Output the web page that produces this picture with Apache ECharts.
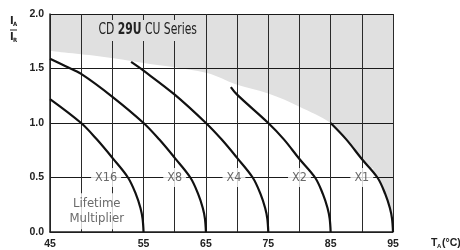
<!DOCTYPE html>
<html>
<head>
<meta charset="utf-8">
<script src="https://cdn.jsdelivr.net/npm/echarts@6/dist/echarts.min.js"></script>
<style>
  html, body { margin: 0; padding: 0; background: #fff; }
  #chart { width: 460px; height: 250px; }
</style>
</head>
<body>
<div id="chart"></div>
<script>
  // x axis: temperature ticks and the grid cell each one sits on (first decade is 3 cells wide)
  const xTickTemps = [45, 55, 65, 75, 85, 95];
  const xTickCells = [0, 3, 5, 7, 9, 11];
  const yTickLabels = ['0.0', '0.5', '1.0', '1.5', '2.0'];

  // derating curves, [T_A in °C, I_A / I_R]
  const curveX16 = [[45, 1.22], [48.33, 1.0], [50, 0.85], [51.67, 0.68], [53.33, 0.5], [54.17, 0.35], [54.67, 0.22], [54.9, 0.12], [55, 0]];
  const curveX8 = [[45, 1.59], [46.67, 1.52], [48.33, 1.45], [51.67, 1.24], [55, 1.0], [57.5, 0.85], [60, 0.68], [62.5, 0.5], [63.75, 0.35], [64.5, 0.22], [64.85, 0.12], [65, 0]];
  const curveX4 = [[53.67, 1.56], [55, 1.48], [60, 1.26], [65, 1.0], [67.5, 0.85], [70, 0.68], [72.5, 0.5], [73.75, 0.35], [74.5, 0.22], [74.85, 0.12], [75, 0]];
  const curveX2 = [[69, 1.33], [70, 1.26], [75, 1.0], [77.5, 0.85], [80, 0.67], [82.5, 0.5], [83.75, 0.35], [84.5, 0.22], [84.85, 0.12], [85, 0]];
  const curveX1 = [[85, 1.0], [87.5, 0.85], [90, 0.67], [92.5, 0.5], [93.75, 0.35], [94.5, 0.22], [94.85, 0.12], [95, 0]];

  // edge of the grey (not allowed) region, then down along the X1 curve
  const shadeEdge = [[45, 1.66], [50.4, 1.61], [55, 1.55], [65, 1.46], [70, 1.35], [75, 1.27], [80, 1.15], [85, 1.0],
    [87.5, 0.85], [90, 0.67], [92.5, 0.5], [93.75, 0.35], [94.5, 0.22], [94.85, 0.12], [95, 0]];

  const multNames = ['X16', 'X8', 'X4', 'X2', 'X1'];
  const multTemps = [51, 60, 69.5, 80, 90];
  const multY = 0.5;

  const narrow = "'DejaVu Sans Condensed', sans-serif";
  const boldFont = "'Liberation Sans', Roboto, sans-serif";

  // temperature -> grid cell, piecewise along the tick table
  function cell(t) {
    for (let i = 1; i < xTickTemps.length; i++) {
      if (t <= xTickTemps[i]) {
        const f = (t - xTickTemps[i - 1]) / (xTickTemps[i] - xTickTemps[i - 1]);
        return xTickCells[i - 1] + f * (xTickCells[i] - xTickCells[i - 1]);
      }
    }
    return xTickCells[xTickCells.length - 1];
  }
  const toCells = arr => arr.map(p => [cell(p[0]), p[1]]);

  function curve(data) {
    return {
      type: 'line', data: toCells(data), symbol: 'none', smooth: 0.35, z: 5,
      lineStyle: {color: '#111', width: 2.2}
    };
  }

  const option = {
    animation: false,
    grid: {left: 50, right: 67, top: 14, bottom: 18},
    xAxis: {
      type: 'value', min: 0, max: 11, interval: 1, z: 3,
      axisLine: {show: true, lineStyle: {color: '#222', width: 1.5}},
      axisTick: {show: false},
      splitLine: {show: true, lineStyle: {color: '#2a2a2a', width: 1}},
      axisLabel: {
        margin: 7, color: '#222', fontSize: 10.5, fontWeight: 'bold', fontFamily: boldFont,
        showMinLabel: true, showMaxLabel: true,
        formatter: v => {
          const i = xTickCells.indexOf(Math.round(v));
          return i >= 0 ? String(xTickTemps[i]) : '';
        }
      }
    },
    yAxis: {
      type: 'value', min: 0, max: 2, interval: 0.5, z: 3,
      axisLine: {show: true, lineStyle: {color: '#222', width: 1.5}},
      axisTick: {show: false},
      splitLine: {show: true, lineStyle: {color: '#1a1a1a', width: 1}},
      axisLabel: {
        margin: 6, color: '#222', fontSize: 10.5, fontWeight: 'bold', fontFamily: boldFont,
        formatter: v => yTickLabels[Math.round(v / 0.5)]
      }
    },
    series: [
      {
        type: 'line', data: toCells(shadeEdge), symbol: 'none', smooth: 0.35, z: 1,
        lineStyle: {width: 0},
        areaStyle: {color: '#e0e0e0', opacity: 1, origin: 'end'}
      },
      curve(curveX16),
      curve(curveX8),
      curve(curveX4),
      curve(curveX2),
      curve(curveX1),
      {
        type: 'scatter', z: 4, symbolSize: 1, itemStyle: {color: 'rgba(0,0,0,0)'},
        data: multNames.map((n, i) => ({name: n, value: [cell(multTemps[i]), multY]})),
        label: {
          show: true, position: 'inside', formatter: '{b}',
          color: '#444', fontSize: 12.5, fontFamily: narrow,
          backgroundColor: '#fff', padding: [3, 4]
        }
      },
      {
        type: 'scatter', z: 4, symbolSize: 1, itemStyle: {color: 'rgba(0,0,0,0)'},
        data: [{name: 'Lifetime\nMultiplier', value: [cell(50), 0.19]}],
        label: {
          show: true, position: 'inside', formatter: '{b}',
          color: '#444', fontSize: 13, lineHeight: 15, fontFamily: narrow,
          backgroundColor: '#fff', padding: [3, 1]
        }
      }
    ],
    graphic: [
      {
        type: 'text', x: 96, y: 20, z: 10, scaleX: 0.8,
        style: {
          text: 'CD {b|29U} CU Series', fill: '#222', fontSize: 15, fontFamily: narrow,
          backgroundColor: '#e0e0e0', padding: [3, 3],
          rich: {b: {fontWeight: 'bold', fontSize: 15, fontFamily: narrow, fill: '#222'}}
        }
      },
      {type: 'text', left: 10, top: 16, style: {text: 'I', fill: '#222', fontSize: 11, fontWeight: 'bold', fontFamily: narrow}},
      {type: 'text', left: 13, top: 21, style: {text: 'A', fill: '#222', fontSize: 6, fontWeight: 'bold', fontFamily: narrow}},
      {type: 'line', shape: {x1: 10, y1: 30, x2: 17, y2: 30}, style: {stroke: '#222', lineWidth: 1}},
      {type: 'text', left: 10, top: 32, style: {text: 'I', fill: '#222', fontSize: 11, fontWeight: 'bold', fontFamily: narrow}},
      {type: 'text', left: 13, top: 37, style: {text: 'R', fill: '#222', fontSize: 6, fontWeight: 'bold', fontFamily: narrow}},
      {type: 'text', left: 431, top: 238, style: {text: 'T', fill: '#222', fontSize: 10.5, fontWeight: 'bold', fontFamily: boldFont}},
      {type: 'text', left: 437, top: 243, style: {text: 'A', fill: '#222', fontSize: 6, fontWeight: 'bold', fontFamily: boldFont}},
      {type: 'text', left: 442, top: 238, style: {text: '(°C)', fill: '#222', fontSize: 10.5, fontWeight: 'bold', fontFamily: boldFont}}
    ]
  };

  const chart = echarts.init(document.getElementById('chart'));
  chart.setOption(option);
</script>
</body>
</html>
